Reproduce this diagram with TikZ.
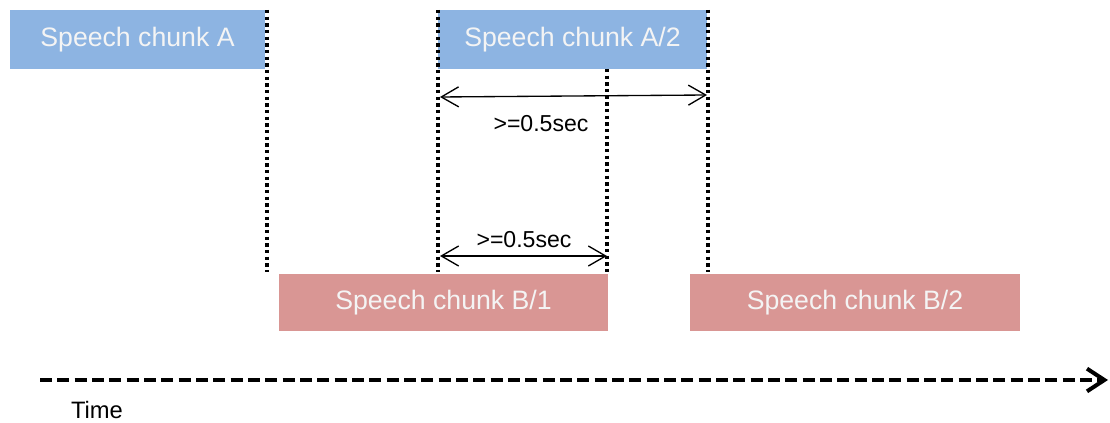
\documentclass[tikz,border=0pt]{standalone}
\usepackage{fontspec}
\setmainfont{Liberation Sans}
\usetikzlibrary{arrows.meta}
\definecolor{chunkblue}{HTML}{8DB4E2}
\definecolor{chunkred}{HTML}{D99694}
\definecolor{chunktext}{HTML}{F4F4F4}
\tikzset{
  chunk/.style={draw=none, inner sep=0pt, text=chunktext, font=\fontsize{20}{24}\selectfont, anchor=center, minimum height=44.25pt},
  bluechunk/.style={chunk, fill=chunkblue},
  redchunk/.style={chunk, fill=chunkred, minimum height=42.75pt},
  guide/.style={line width=3pt, dash pattern=on 2.6pt off 2.4pt},
  dim/.style={line width=1pt, {Straight Barb[length=13pt,width=15pt,line width=1pt]}-{Straight Barb[length=13pt,width=15pt,line width=1pt]}},
  dimlabel/.style={font=\fontsize{17.3}{20}\selectfont, inner sep=0pt},
  timeaxis/.style={line width=3pt, dash pattern=on 9pt off 4pt, -{Straight Barb[length=13pt,width=17pt,line width=3pt]}},
}
\begin{document}
\begin{tikzpicture}[x=0.75pt,y=-0.75pt]
\useasboundingbox (0,0) rectangle (1110,423);
% chunks
\node[bluechunk, minimum width=191.25pt] (A) at (137.5,39.5) {Speech chunk A};
\node[bluechunk, minimum width=201.75pt] (A2) at (572.5,39.5) {Speech chunk A/2};
\node[redchunk, minimum width=246.75pt] (B1) at (443.5,302.5) {Speech chunk B/1};
\node[redchunk, minimum width=247.5pt] (B2) at (855,302.5) {Speech chunk B/2};
% guide coordinates
\coordinate (g1t) at (267,10);  \coordinate (g1b) at (267,272);
\coordinate (g2t) at (438,10);  \coordinate (g2b) at (438,272);
\coordinate (g3t) at (607,69);  \coordinate (g3b) at (607,272);
\coordinate (g4t) at (708,10);  \coordinate (g4b) at (708,272);
\draw[guide] (g1t) -- (g1b);
\draw[guide] (g2t) -- (g2b);
\draw[guide] (g3t) -- (g3b);
\draw[guide] (g4t) -- (g4b);
% dimension arrows
\coordinate (d1l) at (440,97);  \coordinate (d1r) at (707,95);
\coordinate (d2l) at (440,256); \coordinate (d2r) at (607,256);
\draw[dim] (d1l) -- (d1r);
\draw[dim] (d2l) -- (d2r);
\node[dimlabel] (L1) at (541,124) {>=0.5sec};
\node[dimlabel] (L2) at (524,240) {>=0.5sec};
% time axis
\coordinate (t0) at (40,380); \coordinate (t1) at (1108,380);
\draw[timeaxis] (t0) -- (t1);
\node[font=\fontsize{17.8}{20}\selectfont, inner sep=0pt] (T) at (97,410) {Time};
\end{tikzpicture}
\end{document}
